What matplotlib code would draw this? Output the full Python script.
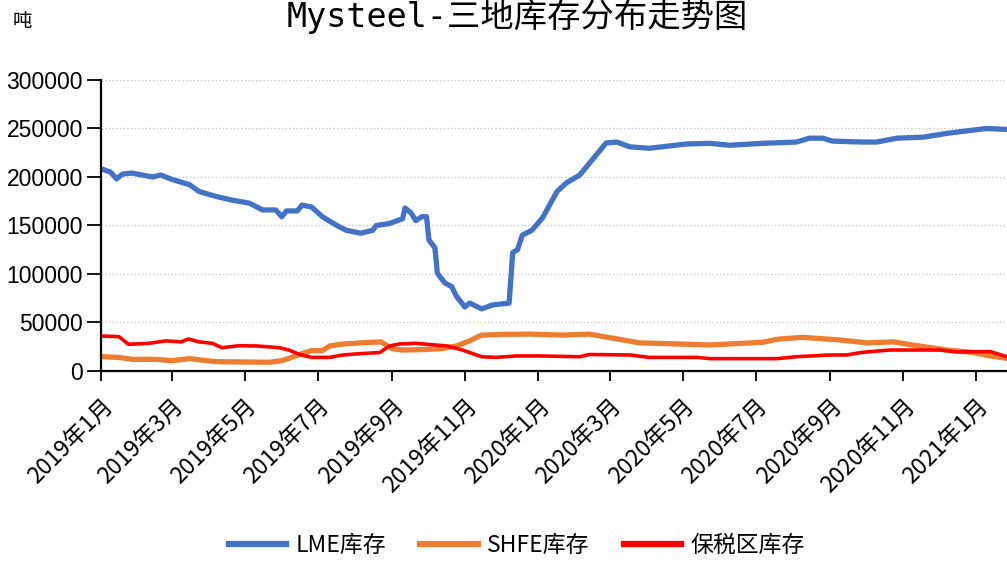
import matplotlib
matplotlib.use("Agg")
import matplotlib.pyplot as plt
import pandas as pd

plt.rcParams['font.family'] = ['Noto Sans CJK SC', 'DejaVu Sans']

# LME inventory (tons)
lme_dates = ["2019-01-02", "2019-01-09", "2019-01-14", "2019-01-19", "2019-01-27", "2019-02-13",
             "2019-02-20", "2019-03-01", "2019-03-16", "2019-03-24", "2019-04-07", "2019-04-21",
             "2019-05-05", "2019-05-16", "2019-05-27", "2019-06-01", "2019-06-05", "2019-06-14",
             "2019-06-18", "2019-06-26", "2019-07-05", "2019-07-17", "2019-07-25", "2019-08-06",
             "2019-08-16", "2019-08-19", "2019-08-30", "2019-09-10", "2019-09-12", "2019-09-17",
             "2019-09-21", "2019-09-26", "2019-09-30", "2019-10-02", "2019-10-07", "2019-10-09",
             "2019-10-15", "2019-10-21", "2019-10-25", "2019-11-01", "2019-11-05", "2019-11-15",
             "2019-11-24", "2019-12-08", "2019-12-11", "2019-12-15", "2019-12-19", "2019-12-27",
             "2020-01-05", "2020-01-17", "2020-01-25", "2020-02-05", "2020-02-19", "2020-02-27",
             "2020-03-07", "2020-03-18", "2020-04-03", "2020-04-20", "2020-05-04", "2020-05-24",
             "2020-06-09", "2020-07-07", "2020-08-04", "2020-08-15", "2020-08-26", "2020-09-03",
             "2020-09-28", "2020-10-10", "2020-10-27", "2020-11-18", "2020-12-08", "2020-12-21",
             "2021-01-10", "2021-01-27"]
lme_vals = [208000, 205000, 198000, 203000, 204000, 200000, 202000, 197600, 192000, 185000,
            180000, 176000, 173000, 166000, 166000, 159000, 165000, 165000, 171000, 169000,
            159000, 150000, 145000, 142000, 145000, 150000, 152000, 157000, 168000, 163000,
            155000, 159000, 159000, 135000, 127000, 101000, 91000, 87000, 77000, 66000,
            70000, 64000, 68000, 70000, 122000, 125000, 140000, 145000, 158000, 185000,
            194000, 202000, 223000, 235000, 236000, 231000, 229600, 232000, 234000, 234700,
            232700, 234700, 236000, 240000, 240000, 237000, 236000, 236000, 240000, 241000,
            245000, 247000, 250000, 249000]

# SHFE inventory (tons)
shfe_dates = ["2019-01-02", "2019-01-16", "2019-01-27", "2019-02-16", "2019-03-01", "2019-03-16",
              "2019-04-07", "2019-04-26", "2019-05-22", "2019-06-01", "2019-06-07", "2019-06-18",
              "2019-06-26", "2019-07-05", "2019-07-11", "2019-07-22", "2019-08-07", "2019-08-23",
              "2019-09-01", "2019-09-10", "2019-09-26", "2019-10-13", "2019-10-25", "2019-11-05",
              "2019-11-15", "2019-12-06", "2019-12-25", "2020-01-22", "2020-02-13", "2020-02-27",
              "2020-03-26", "2020-04-28", "2020-05-24", "2020-07-07", "2020-07-19", "2020-08-09",
              "2020-09-01", "2020-09-09", "2020-10-02", "2020-10-24", "2020-11-09", "2020-12-08",
              "2020-12-29", "2021-01-13", "2021-01-27"]
shfe_vals = [14700, 14000, 12000, 12000, 10600, 12700, 9600, 9300, 9000, 10600,
             13000, 18000, 21000, 21000, 25800, 27800, 29000, 30000, 23000, 21600,
             22000, 23000, 25800, 31000, 37000, 37800, 38000, 37000, 38000, 35000,
             29000, 27800, 26800, 29600, 32700, 34700, 32700, 32000, 29000, 30000,
             26800, 21600, 19200, 15500, 13000]

# Bonded zone inventory (tons)
bond_dates = ["2019-01-02", "2019-01-16", "2019-01-24", "2019-02-10", "2019-02-24", "2019-03-09",
              "2019-03-15", "2019-03-24", "2019-04-04", "2019-04-12", "2019-04-26", "2019-05-11",
              "2019-05-30", "2019-06-07", "2019-06-16", "2019-06-26", "2019-07-11", "2019-07-22",
              "2019-08-07", "2019-08-22", "2019-08-30", "2019-09-07", "2019-09-21", "2019-10-17",
              "2019-10-30", "2019-11-15", "2019-11-27", "2019-12-14", "2020-01-02", "2020-02-05",
              "2020-02-13", "2020-03-18", "2020-04-03", "2020-05-13", "2020-05-24", "2020-07-19",
              "2020-08-04", "2020-09-01", "2020-09-15", "2020-09-28", "2020-10-21", "2020-12-02",
              "2020-12-16", "2021-01-13", "2021-01-27"]
bond_vals = [36000, 35400, 27500, 28500, 31000, 30000, 33000, 30000, 28500, 24000,
             26000, 25800, 24000, 21600, 17000, 14000, 14000, 16500, 18000, 19000,
             25800, 27800, 28500, 25800, 21600, 14700, 14000, 15500, 15500, 14700,
             17000, 16500, 14000, 14000, 12700, 12700, 14700, 16500, 16500, 19200,
             21600, 21600, 19600, 20000, 14700]

tick_months = ["2019-01", "2019-03", "2019-05", "2019-07", "2019-09", "2019-11", "2020-01",
               "2020-03", "2020-05", "2020-07", "2020-09", "2020-11", "2021-01"]

fig = plt.figure(figsize=(10.07, 5.62), dpi=100)
ax = fig.add_axes([0.1003, 0.3399, 0.8997, 0.5178])

ax.plot(pd.to_datetime(lme_dates), lme_vals, color="#4472C4", lw=3.8, label="LME库存")
ax.plot(pd.to_datetime(shfe_dates), shfe_vals, color="#ED7D31", lw=3.8, label="SHFE库存")
ax.plot(pd.to_datetime(bond_dates), bond_vals, color="#FF0000", lw=2.6, label="保税区库存")

ax.set_ylim(0, 300000)
ax.set_yticks(range(0, 300001, 50000))
ax.set_xlim(pd.Timestamp("2019-01-01"), pd.Timestamp("2021-01-27"))
ticks = pd.to_datetime(tick_months)
ax.set_xticks(ticks)
ax.set_xticklabels([f"{t.year}年{t.month}月" for t in ticks], rotation=45,
                   ha="right", rotation_mode="anchor", fontsize=16.5)
ax.tick_params(axis="y", labelsize=16.5, length=10, width=1.3, pad=3)
ax.tick_params(axis="x", length=7.5, width=1.3, pad=9)
for lab in ax.get_yticklabels():
    lab.set_family("Liberation Sans")

ax.grid(axis="y", color="#c8c8c8", linestyle=":", lw=1)
ax.set_axisbelow(True)
for s in ["top", "right"]:
    ax.spines[s].set_visible(False)
for s in ["left", "bottom"]:
    ax.spines[s].set_linewidth(1.6)

fig.text(0.514, 1 - 27 / 562, "Mysteel-三地库存分布走势图", ha="center", va="baseline",
         fontsize=24, family=["DejaVu Sans Mono", "Noto Sans CJK SC"])
fig.text(0.013, 1 - 22 / 562, "吨", ha="left", va="center", fontsize=14)

fig.legend(loc="center", bbox_to_anchor=(0.513, 0.029), ncol=3, frameon=False,
           fontsize=16.5, handlelength=2.5, handletextpad=0.4, columnspacing=1.5)
for line in fig.legends[0].get_lines():
    line.set_linewidth(4.5)

fig.savefig("out.png", dpi=100)
